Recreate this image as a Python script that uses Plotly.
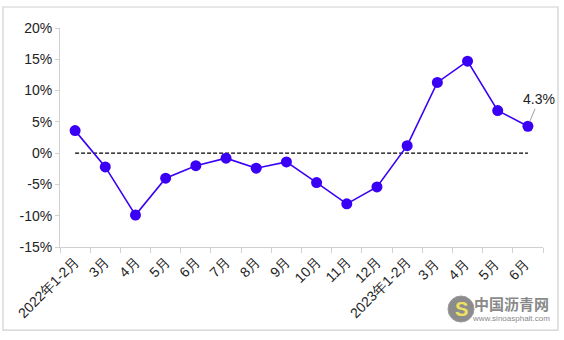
import plotly.graph_objects as go

categories = ["2022年1-2月", "3月", "4月", "5月", "6月", "7月", "8月", "9月", "10月",
              "11月", "12月", "2023年1-2月", "3月 ", "4月 ", "5月 ", "6月 "]
values = [3.6, -2.2, -9.9, -4.0, -2.0, -0.8, -2.4, -1.4, -4.7, -8.1, -5.4, 1.2, 11.3, 14.7, 6.8, 4.3]
zero_line = [0] * len(categories)
y_ticks = [-15, -10, -5, 0, 5, 10, 15, 20]
y_labels = [f"{v}%" for v in y_ticks]

fig = go.Figure()
fig.add_trace(go.Scatter(x=categories, y=zero_line, mode="lines",
                         line=dict(color="black", width=1.4, dash="4px,2px"),
                         hoverinfo="skip", showlegend=False))
fig.add_trace(go.Scatter(x=categories, y=values, mode="lines+markers",
                         line=dict(color="#3A00F5", width=1.6),
                         marker=dict(color="#3A00F5", size=11),
                         showlegend=False))

fig.add_annotation(x=categories[-1], y=values[-1], text=f"{values[-1]}%",
                   showarrow=True, arrowhead=0, arrowcolor="#A0A0A0", arrowwidth=1,
                   ax=11, ay=-27, standoff=5,
                   font=dict(family="Liberation Sans, Arial", size=14, color="#222222"))

# chart border
fig.add_shape(type="rect", xref="paper", yref="paper",
              x0=-0.118, x1=1.031, y0=-0.380, y1=1.096,
              line=dict(color="#D0D0D0", width=1.2), fillcolor="rgba(0,0,0,0)", layer="below")

# watermark
fig.add_shape(type="circle", xref="paper", yref="paper",
              x0=(448 - 60) / 483, x1=(474 - 60) / 483,
              y0=(247 - 322) / 219, y1=(247 - 296) / 219,
              line=dict(color="#9A9A9A", width=1), fillcolor="#8C8C8C", layer="below")
fig.add_annotation(xref="paper", yref="paper", x=(461 - 60) / 483, y=(247 - 309) / 219,
                   xanchor="center", yanchor="middle",
                   text="<b>S</b>", showarrow=False,
                   font=dict(family="Liberation Sans", size=20, color="#F0E060"))
fig.add_annotation(xref="paper", yref="paper", x=(511 - 60) / 483, y=(247 - 303) / 219,
                   xanchor="center", yanchor="middle",
                   text="<b>中国沥青网</b>", showarrow=False,
                   font=dict(family="Noto Sans CJK SC", size=15, color="#8A8A8A"))
fig.add_annotation(xref="paper", yref="paper", x=(511 - 60) / 483, y=(247 - 318) / 219,
                   xanchor="center", yanchor="middle",
                   text="www.sinoasphalt.com", showarrow=False,
                   font=dict(family="Liberation Sans", size=8, color="#8A8A8A"))

fig.update_layout(
    width=564, height=340,
    margin=dict(l=60, r=21, t=28, b=93),
    paper_bgcolor="white", plot_bgcolor="white",
    font=dict(family="Liberation Sans, Arial", size=14, color="#222222"),
    xaxis=dict(type="category", tickangle=-45, showgrid=False, zeroline=False,
               showline=True, linecolor="#D0D0D0", linewidth=1,
               ticks="outside", tickson="boundaries", ticklen=5, tickcolor="#D0D0D0",
               tickfont=dict(size=14), range=[-0.5, len(categories) - 0.5]),
    yaxis=dict(range=[-15, 20], tickvals=y_ticks, ticktext=y_labels, showgrid=False,
               zeroline=False, showline=True, linecolor="#D0D0D0", linewidth=1,
               ticks="outside", ticklen=4, tickcolor="#D0D0D0", tickfont=dict(size=14)),
)

fig.write_html("out.html")
